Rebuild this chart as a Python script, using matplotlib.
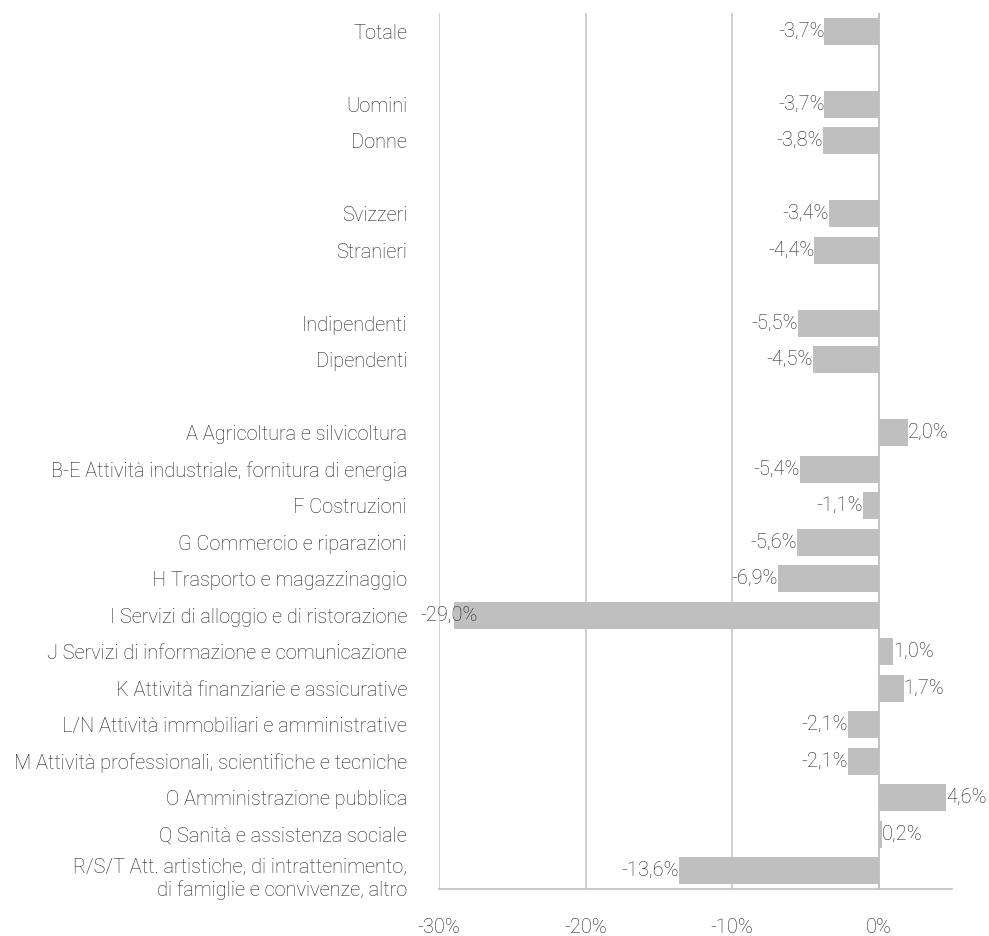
import numpy as np
import matplotlib.pyplot as plt
from matplotlib.transforms import ScaledTranslation

plt.rcParams['font.family'] = ['Roboto', 'DejaVu Sans']

labels = ['Totale', '',
          'Uomini', 'Donne', '',
          'Svizzeri', 'Stranieri', '',
          'Indipendenti', 'Dipendenti', '',
          'A Agricoltura e silvicoltura',
          'B-E Attività industriale, fornitura di energia',
          'F Costruzioni',
          'G Commercio e riparazioni',
          'H Trasporto e magazzinaggio',
          'I Servizi di alloggio e di ristorazione',
          'J Servizi di informazione e comunicazione',
          'K Attività finanziarie e assicurative',
          'L/N Attività immobiliari e amministrative',
          'M Attività professionali, scientifiche e tecniche',
          'O Amministrazione pubblica',
          'Q Sanità e assistenza sociale',
          'R/S/T Att. artistiche, di intrattenimento,\ndi famiglie e convivenze, altro']
values = [-3.7, None,
          -3.7, -3.8, None,
          -3.4, -4.4, None,
          -5.5, -4.5, None,
          2.0, -5.4, -1.1, -5.6, -6.9, -29.0, 1.0, 1.7, -2.1, -2.1, 4.6, 0.2, -13.6]

txt = '#222222'
fs = 14.4
fig = plt.figure(figsize=(9.89, 9.36), dpi=100)
ax = fig.add_axes([439/989, 1 - 889/936, (952-439)/989, (889-13)/936])

y = np.arange(len(labels))
vals = np.array([np.nan if v is None else v for v in values])
ax.barh(y, np.nan_to_num(vals), height=0.75, color='#BFBFBF', zorder=2)

for yi, v in zip(y, values):
    if v is None:
        continue
    s = f'{v:.1f}%'.replace('.', ',')
    if v < -25:
        # label would leave the plot area, so it is pulled over the bar end
        ax.annotate(s, (v, yi), xytext=(-24, 0), textcoords='offset points',
                    ha='left', va='center', fontsize=fs, color=txt,
                    fontweight='light', zorder=3)
    else:
        ax.text(v, yi, s, ha='right' if v < 0 else 'left', va='center',
                fontsize=fs, color=txt, fontweight='light', zorder=3)

ax.set_xlim(-30, 5)
ax.set_ylim(len(labels) - 0.5, -0.5)
ax.set_xticks([-30, -20, -10, 0])
ax.set_xticklabels(['-30%', '-20%', '-10%', '0%'])
ax.set_yticks(y)
ax.set_yticklabels(labels, ha='right', linespacing=1.2)
ax.tick_params(axis='both', length=0, labelsize=fs, labelcolor=txt)
ax.tick_params(axis='y', pad=23)
ax.tick_params(axis='x', pad=21)
for t in ax.get_xticklabels() + ax.get_yticklabels():
    t.set_fontweight('light')

# two-line label: first line sits on the bar, second below
last = ax.get_yticklabels()[-1]
last.set_va('top')
last.set_transform(last.get_transform() + ScaledTranslation(0, 9/72, fig.dpi_scale_trans))

ax.grid(axis='x', color='#C8C8C8', linewidth=1.2, zorder=0)
ax.axvline(0, color='#A6A6A6', linewidth=1.2, zorder=1)
for side in ['top', 'right', 'left']:
    ax.spines[side].set_visible(False)
ax.spines['bottom'].set_color('#BFBFBF')
ax.spines['bottom'].set_linewidth(1.2)

fig.savefig('out.png', dpi=100)
